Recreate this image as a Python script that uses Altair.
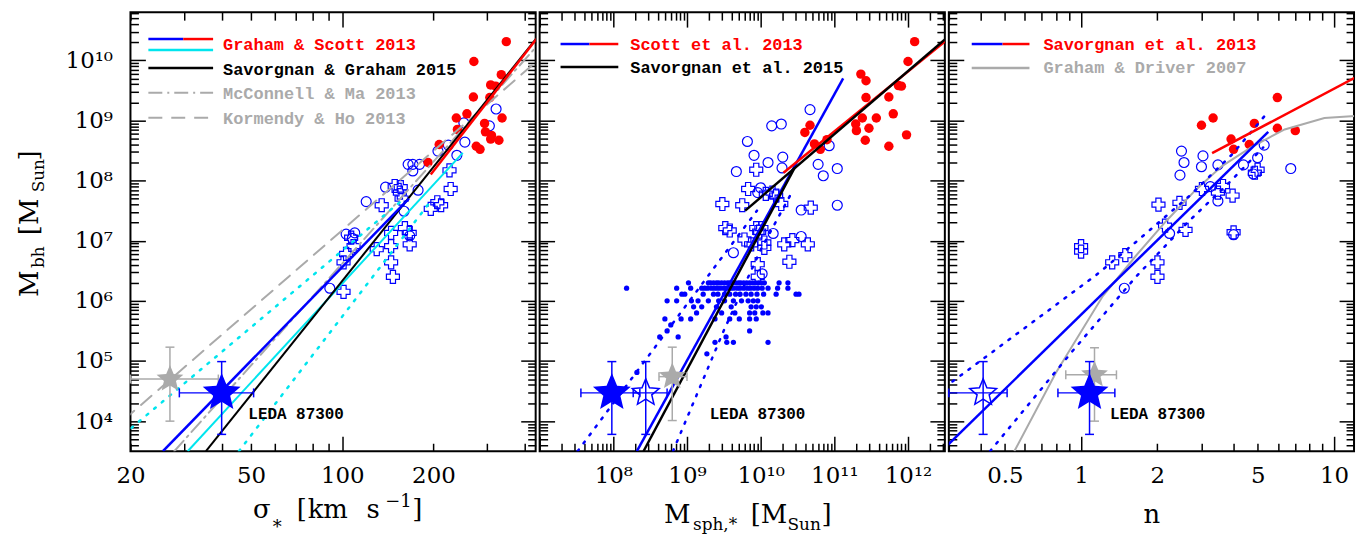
import math
import altair as alt
import pandas as pd

BLUE, RED, CYAN, GRAY, BLACK = "#0000ff", "#ff0000", "#00e5ee", "#aaaaaa", "#000000"
SERIF, MONO = "DejaVu Serif", "Liberation Mono"
W, H = 407, 441

# ---------------- data ----------------
# Panel 1: sigma [km/s] vs log10 M_bh
p1_red_sigma = [348, 272, 271, 335, 309, 321, 307, 258, 238, 337, 240, 295, 297, 311, 309, 329, 277, 285, 209, 192]
p1_red_logm = [10.31, 9.98, 9.39, 9.76, 9.59, 9.57, 9.38, 9.11, 9.04, 9.04, 8.85, 8.95, 8.81, 8.75, 8.69, 8.67, 8.57, 8.52, 8.60, 8.30]
p1_circ_sigma = [322, 306, 252, 254, 224, 207, 239, 171, 171, 180, 165, 178, 139, 120, 160, 110, 167, 91, 103, 108]
p1_circ_logm = [9.19, 8.91, 8.96, 8.64, 8.59, 8.49, 8.42, 8.27, 8.16, 8.27, 8.27, 7.84, 7.89, 7.65, 7.49, 7.13, 7.08, 6.21, 7.11, 7.04]
p1_cross_sigma = [149, 155, 157, 135, 228, 226, 206, 196, 212, 161, 145, 167, 145, 130, 107, 109, 103, 101, 145, 147, 101, 156, 167]
p1_cross_logm = [7.91, 7.80, 7.70, 7.59, 7.86, 8.17, 7.64, 7.53, 7.59, 7.21, 7.13, 6.94, 6.91, 6.86, 7.05, 6.91, 6.78, 6.64, 6.64, 6.40, 6.15, 7.89, 7.13]
# fit lines (end points / read points)
p1_blue_sigma, p1_blue_logm = [25.6, 166], [3.5, 7.70]
p1_red_line_sigma, p1_red_line_logm = [196, 440], [8.10, 10.37]
p1_cyan_sigma, p1_cyan_logm = [30.9, 250], [3.5, 8.46]
p1_cyan_hi_sigma, p1_cyan_hi_logm = [19.0, 160], [3.78, 7.70]
p1_cyan_lo_sigma, p1_cyan_lo_logm = [45.6, 192], [3.5, 7.60]
p1_black_sigma, p1_black_logm = [35.5, 440], [3.5, 10.38]
p1_kh_sigma, p1_kh_logm = [19.0, 440], [4.02, 9.99]
p1_mm_sigma, p1_mm_logm = [27.9, 440], [3.5, 10.24]
# LEDA 87300 (filled) and comparison (grey): x, log M, error bars
p1_star_x, p1_star_logm = [40, 27], [4.47, 4.70]
p1_star_xlo, p1_star_xhi = [29, 20], [51, 39]
p1_star_ylo, p1_star_yhi = [3.78, 4.00], [4.99, 5.23]

# Panel 2: log10 M_sph,* vs log10 M_bh
p2_red_logx = [12.09, 12.00, 11.36, 11.43, 11.43, 11.74, 11.87, 11.91, 11.80, 11.57, 11.38, 11.29, 11.30, 11.47, 11.42, 11.74, 11.98, 10.67, 10.60, 10.73, 10.81, 10.90]
p2_red_logm = [10.31, 9.98, 9.77, 9.66, 9.38, 9.39, 9.58, 9.57, 9.11, 9.04, 9.04, 8.94, 8.83, 8.87, 8.67, 8.57, 8.76, 8.92, 8.80, 8.61, 8.52, 8.68]
p2_circ_logx = [10.67, 10.15, 10.28, 9.82, 9.91, 10.10, 10.30, 10.29, 9.67, 10.93, 10.78, 11.04, 10.85, 10.00, 11.04, 10.55, 10.17, 10.55, 9.63, 9.96, 10.02]
p2_circ_logm = [9.18, 8.91, 8.94, 8.65, 8.42, 8.30, 8.39, 8.21, 8.15, 8.58, 8.27, 8.20, 8.08, 7.88, 7.59, 7.51, 7.12, 7.07, 6.80, 7.80, 6.45]
p2_cross_logx = [9.94, 9.83, 9.48, 9.75, 10.68, 10.07, 10.16, 10.28, 9.58, 9.52, 9.78, 10.01, 10.32, 10.43, 10.64, 10.39, 9.94, 10.05, 9.98, 10.05, 9.96, 9.96, 10.21, 9.87]
p2_cross_logm = [8.18, 7.86, 7.61, 7.59, 7.55, 7.78, 7.80, 7.61, 7.17, 7.21, 7.02, 7.21, 6.94, 7.01, 6.94, 6.65, 7.21, 6.97, 7.15, 6.88, 6.61, 6.40, 7.75, 6.94]
# small filled dots, grouped by their (quantised) log M_bh
p2_dots_630 = [9.02, 9.29, 9.32, 9.36, 9.40, 9.43, 9.47, 9.51, 9.55, 9.58, 9.62, 9.66, 9.70, 9.73, 9.77, 9.81, 9.85, 9.89, 9.93, 9.97, 10.01, 10.05, 10.25, 10.37]
p2_dots_621 = [8.18, 8.86, 9.05, 9.20, 9.24, 9.28, 9.33, 9.37, 9.41, 9.45, 9.50, 9.54, 9.59, 9.63, 9.68, 9.72, 9.77, 9.82, 9.86, 9.91, 9.96, 10.02, 10.10, 10.23, 10.37]
p2_dots_611 = [8.93, 8.97, 9.22, 9.36, 9.42, 9.51, 9.58, 9.66, 9.72, 9.80, 9.87, 9.95, 10.04, 10.21, 10.48, 10.52]
p2_dots_600 = [8.73, 8.86, 9.06, 9.15, 9.29, 9.43, 9.51, 9.63, 9.74, 9.83, 9.90, 9.96]
p2_dots_590 = [9.09, 9.20, 9.40, 9.60, 9.87, 9.94, 10.01]
p2_dots_580 = [9.13, 9.47, 9.65, 9.85, 9.92, 10.03, 10.10]
p2_dots_570 = [8.70, 8.92, 9.05, 9.38, 9.58, 9.71, 9.85, 9.94]
p2_dots_560 = [8.78]
p2_dots_550 = [8.73, 9.85]
p2_dots_540 = [8.63, 8.88, 9.53]
p2_dots_531 = [9.38, 9.54, 9.63, 10.10]
p2_dots_512 = [9.27]
p2_dots_481 = [8.32]
p2_blue_logx, p2_blue_logm = [8.32, 11.12], [3.5, 9.70]
p2_red_line_logx, p2_red_line_logm = [10.31, 12.6], [8.13, 10.41]
p2_black1_logx, p2_black1_logm = [8.41, 10.46], [3.5, 8.21]
p2_black2_logx, p2_black2_logm = [9.79, 12.6], [7.50, 10.45]
p2_dot_hi_logx, p2_dot_hi_logm = [7.515, 9.356, 9.95], [3.5, 6.53, 7.50]
p2_dot_lo_logx, p2_dot_lo_logm = [8.81, 9.49, 10.0, 10.40], [3.5, 5.48, 6.85, 7.75]
p2_star_logx, p2_star_logm = [7.98, 8.44, 8.80], [4.47, 4.47, 4.74]
p2_star_xlo, p2_star_xhi = [7.56, 8.27, 8.62], [8.36, 8.73, 9.00]
p2_star_ylo, p2_star_yhi = [3.78, 3.78, 4.01], [4.99, 4.99, 5.23]

# Panel 3: log10 n vs log10 M_bh
p3_red_logn = [0.476, 0.522, 0.776, 0.685, 0.593, 0.603, 0.665, 0.776, 0.847]
p3_red_logm = [8.92, 9.04, 9.38, 8.95, 8.69, 8.52, 8.60, 8.87, 8.83]
p3_circ_logn = [0.397, 0.407, 0.391, 0.482, 0.476, 0.541, 0.642, 0.724, 0.698, 0.681, 0.829, 0.511, 0.541, 0.350, 0.171, 0.603]
p3_circ_logm = [8.49, 8.30, 8.09, 8.41, 8.23, 8.26, 8.26, 8.59, 8.38, 8.11, 8.20, 7.90, 7.66, 7.12, 6.21, 7.10]
p3_cross_logn = [0.306, 0.389, 0.332, 0.413, 0.123, 0.175, 0.302, 0.302, 0.603, 0.599, 0.561, 0.541, 0.478, 0.698, 0.687, 0.000, 0.000]
p3_cross_logm = [7.60, 7.63, 7.25, 7.18, 6.64, 6.76, 6.64, 6.40, 7.14, 7.75, 7.91, 7.80, 7.86, 8.18, 8.13, 6.91, 6.82]
p3_blue_logn, p3_blue_logm = [-0.54, 0.74], [3.55, 8.81]
p3_red_line_logn, p3_red_line_logm = [0.518, 1.10], [8.455, 9.75]
p3_dot_hi_logn = [-0.54, 0.06, 0.22, 0.43, 0.596, 0.733]
p3_dot_hi_logm = [4.56, 6.43, 6.99, 7.75, 8.43, 9.11]
p3_dot_lo_logn = [-0.36, -0.031, 0.217, 0.42, 0.589, 0.72]
p3_dot_lo_logm = [3.5, 5.18, 6.40, 7.30, 7.98, 8.55]
p3_gd_logn = [-0.264, -0.10, 0.086, 0.217, 0.335, 0.452, 0.557, 0.675, 0.805, 0.962, 1.10]
p3_gd_logm = [3.50, 4.80, 6.08, 6.75, 7.32, 7.84, 8.24, 8.56, 8.85, 9.04, 9.08]
p3_star_n, p3_star_logm = [1.08, 0.41, 1.13], [4.47, 4.47, 4.77]
p3_star_xlo, p3_star_xhi = [0.81, 0.30, 0.87], [1.36, 0.51, 1.38]
p3_star_ylo, p3_star_yhi = [3.78, 3.78, 4.00], [4.99, 4.99, 5.22]

leda_x = [49, 10 ** 9.31, 1.30]
leda_logm = 4.03

# tick labels
y_label_exp = [4, 5, 6, 7, 8, 9, 10]
x1_labels = [20, 50, 100, 200]
x2_label_exp = [8, 9, 10, 11, 12]
x3_labels = [0.5, 1, 2, 5, 10]
x3_label_text = ["0.5", "1", "2", "5", "10"]

# ---------------- helpers ----------------
SUP = str.maketrans("0123456789-", "\u2070\u00b9\u00b2\u00b3\u2074\u2075\u2076\u2077\u2078\u2079\u207b")


def lin(v):
    return [10 ** a for a in v]


YS = alt.Scale(type="log", domain=[10 ** 3.5, 10 ** 10.8], nice=False)
XS1 = alt.Scale(type="log", domain=[20, 435], nice=False)
XS2 = alt.Scale(type="log", domain=[1e7, 10 ** 12.5], nice=False)
XS3 = alt.Scale(type="log", domain=[0.3, 12], nice=False)

ry = [10 ** 3.5, 10 ** 10.8]
Y_MAJ = [10.0 ** j for j in range(4, 11)]
Y_MIN = [k * 10.0 ** j for j in range(3, 11) for k in range(2, 10) if ry[0] <= k * 10.0 ** j <= ry[1]]

DUMMY = pd.DataFrame({"a": [0]})


def X(xs, f="x"):
    return alt.X(f"{f}:Q", scale=xs, axis=None)


def Y(f="y"):
    return alt.Y(f"{f}:Q", scale=YS, axis=None)


def star_path(inner=0.45):
    pts = []
    for i in range(10):
        r = 1.0 if i % 2 == 0 else inner
        a = math.pi / 2 + i * math.pi / 5
        pts.append((r * math.cos(a), -r * math.sin(a)))
    return "M" + "L".join(f"{x:.3f},{y:.3f}" for x, y in pts) + "Z"


STAR = star_path()


def points(xs, xv, yv, kind):
    df = pd.DataFrame({"x": xv, "y": yv})
    c = alt.Chart(df)
    if kind == "red":
        m = c.mark_point(shape="circle", filled=True, color=RED, size=90, opacity=1, strokeWidth=0)
    elif kind == "circ":
        m = c.mark_point(shape="circle", filled=False, color=BLUE, size=100, opacity=1, strokeWidth=1.2)
    elif kind == "cross":
        m = c.mark_point(shape="cross", filled=False, color=BLUE, size=170, opacity=1, strokeWidth=1.2)
    else:
        m = c.mark_point(shape="circle", filled=True, color=BLUE, size=28, opacity=1, strokeWidth=0)
    return m.encode(x=X(xs), y=Y())


def line(xs, xv, yv, color, width, dash=None):
    df = pd.DataFrame({"x": xv, "y": yv, "o": list(range(len(xv)))})
    kw = dict(color=color, strokeWidth=width, clip=True)
    if dash is not None:
        kw["strokeDash"] = dash
        kw["strokeCap"] = "round"
    return alt.Chart(df).mark_line(**kw).encode(x=X(xs), y=Y(), order="o:Q")


def star(xs, x, y, xlo, xhi, ylo, yhi, color, filled, size):
    df = pd.DataFrame({"x": [x], "y": [10 ** y], "xlo": [xlo], "xhi": [xhi],
                       "ylo": [10 ** ylo], "yhi": [10 ** yhi]})
    c = alt.Chart(df)
    out = [
        c.mark_rule(color=color, strokeWidth=1.5).encode(x=X(xs, "xlo"), x2="xhi:Q", y=Y("y")),
        c.mark_rule(color=color, strokeWidth=1.5).encode(x=X(xs, "x"), y=Y("ylo"), y2="yhi:Q"),
    ]
    for f in ("ylo", "yhi"):
        out.append(c.mark_tick(orient="horizontal", color=color, size=9, thickness=1.5, opacity=1)
                   .encode(x=X(xs, "x"), y=Y(f)))
    for f in ("xlo", "xhi"):
        out.append(c.mark_tick(orient="vertical", color=color, size=9, thickness=1.5, opacity=1)
                   .encode(x=X(xs, f), y=Y("y")))
    if filled:
        sym = c.mark_point(shape=STAR, filled=True, color=color, size=size, opacity=1, strokeWidth=0)
    else:
        sym = c.mark_point(shape=STAR, filled=False, color=color, size=size, opacity=1, strokeWidth=1.5)
    out.append(sym.encode(x=X(xs, "x"), y=Y("y")))
    return out


def txt(s, x, y, size, color=BLACK, font=SERIF, angle=None, align="left", weight="normal"):
    kw = dict(text=s, font=font, fontSize=size, color=color, align=align,
              baseline="alphabetic", fontWeight=weight)
    if angle is not None:
        kw["angle"] = angle
    return alt.Chart(DUMMY).mark_text(**kw).encode(x=alt.value(x), y=alt.value(y))


def seg(x1, x2, y, color, width=2.5, dash=None):
    kw = dict(color=color, strokeWidth=width)
    if dash is not None:
        kw["strokeDash"] = dash
    return alt.Chart(DUMMY).mark_rule(**kw).encode(x=alt.value(x1), x2=alt.value(x2), y=alt.value(y))


def lab_expr(vals, texts):
    s = "''"
    for v, t in zip(reversed(vals), reversed(texts)):
        s = f"datum.value == {float(v)!r} ? '{t}' : ({s})"
    return s


def axis_layers(xs, xmid, xlab_vals, xlab_text, xmaj, xmin, ylabels):
    dummy = pd.DataFrame({"x": [xmid], "y": [1e7]})

    def lay(xa, ya):
        return alt.Chart(dummy).mark_point(opacity=0).encode(
            x=alt.X("x:Q", scale=xs, axis=xa), y=alt.Y("y:Q", scale=YS, axis=ya))

    def ticks(orient, vals, size):
        return alt.Axis(orient=orient, values=vals, labels=False, ticks=True, tickSize=size,
                        tickWidth=1.5, tickColor=BLACK, offset=-size, grid=False,
                        domain=False, title=None)

    xlab = alt.Axis(orient="bottom", values=xlab_vals, labelExpr=lab_expr(xlab_vals, xlab_text),
                    ticks=False, domain=False, grid=False, title=None, labelFont=SERIF,
                    labelFontSize=23, labelColor=BLACK, labelPadding=13, labelFlush=False,
                    labelOverlap=False)
    if ylabels:
        ylab = alt.Axis(orient="left", values=Y_MAJ,
                        labelExpr=lab_expr(Y_MAJ, ["10" + str(e).translate(SUP) for e in y_label_exp]),
                        ticks=False, domain=False, grid=False, title=None, labelFont=SERIF,
                        labelFontSize=23, labelColor=BLACK, labelPadding=18, labelFlush=False,
                        labelOverlap=False, labelBaseline="middle")
    else:
        ylab = None
    return [
        lay(xlab, ylab),
        lay(ticks("bottom", xmaj, 15), ticks("left", Y_MAJ, 15)),
        lay(ticks("bottom", xmin, 8), ticks("left", Y_MIN, 8)),
        lay(ticks("top", xmaj, 15), ticks("right", Y_MAJ, 15)),
        lay(ticks("top", xmin, 8), ticks("right", Y_MIN, 8)),
    ]


def leda(xs, x):
    df = pd.DataFrame({"x": [x], "y": [10 ** leda_logm]})
    return alt.Chart(df).mark_text(text="LEDA 87300", font=MONO, fontSize=16, fontWeight="bold",
                                   align="left", baseline="alphabetic", color=BLACK).encode(x=X(xs), y=Y())


DOTTED = [2, 8]

# ---------------- panel 1 ----------------
x1_min = [v for v in [20, 30, 40, 50, 60, 70, 80, 90, 200, 300, 400]]
layers1 = axis_layers(XS1, 100, x1_labels, [str(v) for v in x1_labels], [100], x1_min, True)
layers1 += [
    points(XS1, p1_cross_sigma, lin(p1_cross_logm), "cross"),
    points(XS1, p1_circ_sigma, lin(p1_circ_logm), "circ"),
    points(XS1, p1_red_sigma, lin(p1_red_logm), "red"),
    line(XS1, p1_kh_sigma, lin(p1_kh_logm), GRAY, 2, [14, 9]),
    line(XS1, p1_mm_sigma, lin(p1_mm_logm), GRAY, 2, [14, 5, 2, 5]),
    line(XS1, p1_cyan_hi_sigma, lin(p1_cyan_hi_logm), CYAN, 2.5, DOTTED),
    line(XS1, p1_cyan_lo_sigma, lin(p1_cyan_lo_logm), CYAN, 2.5, DOTTED),
    line(XS1, p1_cyan_sigma, lin(p1_cyan_logm), CYAN, 2),
    line(XS1, p1_black_sigma, lin(p1_black_logm), BLACK, 2),
    line(XS1, p1_blue_sigma, lin(p1_blue_logm), BLUE, 2.5),
    line(XS1, p1_red_line_sigma, lin(p1_red_line_logm), RED, 2.5),
]
layers1 += star(XS1, p1_star_x[1], p1_star_logm[1], p1_star_xlo[1], p1_star_xhi[1],
                p1_star_ylo[1], p1_star_yhi[1], GRAY, True, 800)
layers1 += star(XS1, p1_star_x[0], p1_star_logm[0], p1_star_xlo[0], p1_star_xhi[0],
                p1_star_ylo[0], p1_star_yhi[0], BLUE, True, 1600)
layers1 += [
    leda(XS1, leda_x[0]),
    seg(18, 53, 27, BLUE), seg(53, 83, 27, RED), seg(18, 83, 38, CYAN),
    seg(18, 83, 56, BLACK), seg(18, 83, 81, GRAY, 2, [14, 5, 2, 5]), seg(18, 83, 106, GRAY, 2, [14, 9]),
    txt("Graham & Scott 2013", 93, 38, 17, RED, MONO, weight="bold"),
    txt("Savorgnan & Graham 2015", 93, 63, 17, BLACK, MONO, weight="bold"),
    txt("McConnell & Ma 2013", 93, 87, 17, GRAY, MONO, weight="bold"),
    txt("Kormendy & Ho 2013", 93, 112, 17, GRAY, MONO, weight="bold"),
    # x title: sigma_* [km s^-1]
    txt("\u03c3", 123, 508, 26), txt("*", 143, 523, 18), txt("[", 167, 508, 26),
    txt("km", 178, 508, 26), txt("s", 237, 508, 26), txt("\u22121", 256, 497, 18),
    txt("]", 283, 508, 26),
    # y title: M_bh [M_Sun]
    txt("M", -93, 286, 26, angle=270), txt("bh", -87, 257, 17, angle=270),
    txt("[M", -93, 224, 26, angle=270), txt("Sun", -87, 181, 17, angle=270),
    txt("]", -93, 149, 26, angle=270),
]
p1 = alt.layer(*layers1).properties(width=W, height=H).resolve_axis(x="independent", y="independent")

# ---------------- panel 2 ----------------
x2_maj = [10.0 ** j for j in range(7, 13)]
x2_min = [k * 10.0 ** j for j in range(7, 13) for k in range(2, 10) if k * 10.0 ** j <= 10 ** 12.5]
x2_lab = [10.0 ** e for e in x2_label_exp]
layers2 = axis_layers(XS2, 1e10, x2_lab, ["10" + str(e).translate(SUP) for e in x2_label_exp],
                      x2_maj, x2_min, False)
dot_rows = [(6.30, p2_dots_630), (6.21, p2_dots_621), (6.11, p2_dots_611), (6.00, p2_dots_600),
            (5.90, p2_dots_590), (5.80, p2_dots_580), (5.70, p2_dots_570), (5.60, p2_dots_560),
            (5.50, p2_dots_550), (5.40, p2_dots_540), (5.31, p2_dots_531), (5.12, p2_dots_512),
            (4.81, p2_dots_481)]
dx = [v for _, row in dot_rows for v in row]
dy = [m for m, row in dot_rows for _ in row]
layers2 += [
    points(XS2, lin(dx), lin(dy), "dot"),
    points(XS2, lin(p2_cross_logx), lin(p2_cross_logm), "cross"),
    points(XS2, lin(p2_circ_logx), lin(p2_circ_logm), "circ"),
    points(XS2, lin(p2_red_logx), lin(p2_red_logm), "red"),
    line(XS2, lin(p2_dot_hi_logx), lin(p2_dot_hi_logm), BLUE, 2.5, DOTTED),
    line(XS2, lin(p2_dot_lo_logx), lin(p2_dot_lo_logm), BLUE, 2.5, DOTTED),
    line(XS2, lin(p2_blue_logx), lin(p2_blue_logm), BLUE, 2.5),
    line(XS2, lin(p2_black1_logx), lin(p2_black1_logm), BLACK, 2.5),
    line(XS2, lin(p2_red_line_logx), lin(p2_red_line_logm), RED, 2.5),
    line(XS2, lin(p2_black2_logx), lin(p2_black2_logm), BLACK, 2.5),
]
layers2 += star(XS2, 10 ** p2_star_logx[2], p2_star_logm[2], 10 ** p2_star_xlo[2], 10 ** p2_star_xhi[2],
                p2_star_ylo[2], p2_star_yhi[2], GRAY, True, 800)
layers2 += star(XS2, 10 ** p2_star_logx[1], p2_star_logm[1], 10 ** p2_star_xlo[1], 10 ** p2_star_xhi[1],
                p2_star_ylo[1], p2_star_yhi[1], BLUE, False, 800)
layers2 += star(XS2, 10 ** p2_star_logx[0], p2_star_logm[0], 10 ** p2_star_xlo[0], 10 ** p2_star_xhi[0],
                p2_star_ylo[0], p2_star_yhi[0], BLUE, True, 1600)
layers2 += [
    leda(XS2, leda_x[1]),
    seg(21, 50, 32, BLUE), seg(50, 79, 32, RED), seg(21, 79, 55, BLACK),
    txt("Scott et al. 2013", 91, 38, 17, RED, MONO, weight="bold"),
    txt("Savorgnan et al. 2015", 91, 61, 17, BLACK, MONO, weight="bold"),
    txt("M", 125, 513, 26), txt("sph,*", 154, 520, 17), txt("[M", 212, 513, 26),
    txt("Sun", 249, 520, 17), txt("]", 283, 513, 26),
]
p2 = alt.layer(*layers2).properties(width=W, height=H).resolve_axis(x="independent", y="independent")

# ---------------- panel 3 ----------------
x3_min = [0.3, 0.4, 0.5, 0.6, 0.7, 0.8, 0.9, 2, 3, 4, 5, 6, 7, 8, 9]
layers3 = axis_layers(XS3, 2, x3_labels, x3_label_text, [1, 10], x3_min, False)
layers3 += [
    points(XS3, lin(p3_cross_logn), lin(p3_cross_logm), "cross"),
    points(XS3, lin(p3_circ_logn), lin(p3_circ_logm), "circ"),
    points(XS3, lin(p3_red_logn), lin(p3_red_logm), "red"),
    line(XS3, lin(p3_gd_logn), lin(p3_gd_logm), GRAY, 2),
    line(XS3, lin(p3_dot_hi_logn), lin(p3_dot_hi_logm), BLUE, 2.5, DOTTED),
    line(XS3, lin(p3_dot_lo_logn), lin(p3_dot_lo_logm), BLUE, 2.5, DOTTED),
    line(XS3, lin(p3_blue_logn), lin(p3_blue_logm), BLUE, 2.5),
    line(XS3, lin(p3_red_line_logn), lin(p3_red_line_logm), RED, 2.5),
]
layers3 += star(XS3, p3_star_n[2], p3_star_logm[2], p3_star_xlo[2], p3_star_xhi[2],
                p3_star_ylo[2], p3_star_yhi[2], GRAY, True, 800)
layers3 += star(XS3, p3_star_n[1], p3_star_logm[1], p3_star_xlo[1], p3_star_xhi[1],
                p3_star_ylo[1], p3_star_yhi[1], BLUE, False, 800)
layers3 += star(XS3, p3_star_n[0], p3_star_logm[0], p3_star_xlo[0], p3_star_xhi[0],
                p3_star_ylo[0], p3_star_yhi[0], BLUE, True, 1600)
layers3 += [
    leda(XS3, leda_x[2]),
    seg(23, 54, 32, BLUE), seg(54, 81, 32, RED), seg(23, 81, 56, GRAY),
    txt("Savorgnan et al. 2013", 95, 38, 17, RED, MONO, weight="bold"),
    txt("Graham & Driver 2007", 95, 61, 17, GRAY, MONO, weight="bold"),
    txt("n", 204, 513, 26, align="center"),
]
p3 = alt.layer(*layers3).properties(width=W, height=H).resolve_axis(x="independent", y="independent")

chart = (
    alt.hconcat(p1, p2, p3, spacing=0)
    .properties(padding={"left": 8, "top": 1, "right": 5, "bottom": 2}, background="white")
    .configure_view(stroke=BLACK, strokeWidth=2)
)
chart.save("out.html", embed_options={"renderer": "svg", "actions": False})
